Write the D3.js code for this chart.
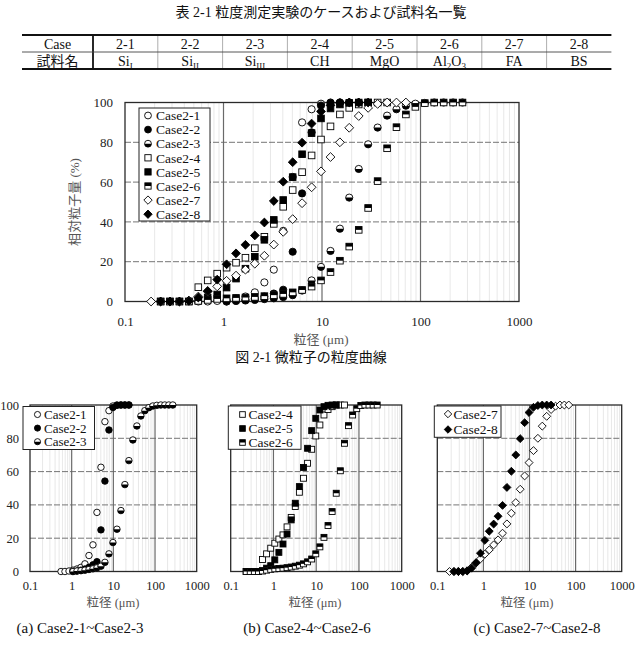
<!DOCTYPE html>
<html>
<head>
<meta charset="utf-8">
<script src="https://cdn.jsdelivr.net/npm/d3@7"></script>
<style>
  body { margin: 0; background: #fff; }
  svg { display: block; }
</style>
</head>
<body>
<script>
// particle size bins (µm)
const sizes = [0.148, 0.184, 0.230, 0.286, 0.357, 0.445, 0.555, 0.691, 0.863, 1.075,
  1.34, 1.67, 2.08, 2.60, 3.24, 4.04, 5.04, 6.28, 7.84, 9.77,
  12.2, 15.2, 18.9, 23.6, 29.4, 36.7, 45.8, 57.0, 71.1, 88.7,
  110.6, 137.8, 171.8, 214.3, 267]

const skip = n => Array(n).fill(null)

// cumulative passing (%) per case, aligned with sizes
const case2_1 = [...skip(6), 0, 0, 0.3, 0.8, 1.5, 2.5, 4.6, 9.6, 16, 35.5, 62.6, 90, 96.6, 99.4, 100, 100, 100, 100]
const case2_2 = [...skip(9), 0, 0.3, 0.8, 1.5, 2.5, 4, 5.9, 25, 54.3, 85, 98.5, 99.8, 100, 100, 100]
const case2_3 = [...skip(9), 0, 0.3, 0.5, 0.8, 1.2, 1.6, 2.2, 3.2, 5.5, 10.6, 17.4, 25.4, 36.6, 52.2, 66.6, 79, 87.4, 93.4, 96.6, 98.4, 99.4, 99.8, 100, 100, 100, 100]
const case2_4 = [...skip(6), 7.2, 10.6, 14, 17, 19.5, 22, 26.8, 32.5, 39, 47.6, 56, 65, 73.4, 81.4, 88, 94, 97.3, 99, 100, 100, 100]
const case2_5 = [...skip(2), 0, 0, 0, 0, 0.5, 2, 3.5, 7, 11.5, 16.5, 22.5, 31, 41, 51, 62.5, 74, 84.6, 92, 97, 99, 99.8, 100, 100]
const case2_6 = [...skip(2), 0, 0, 0, 0, 0.3, 0.8, 1.3, 1.6, 1.8, 2, 2.3, 2.7, 3.2, 3.8, 4.6, 5.8, 7.5, 10.6, 14.8, 20.5, 27.6, 36, 47, 60.5, 77, 87.6, 94, 97.8, 99.7, 100, 100, 100, 100]
const case2_7 = [...skip(1), 0, 0, 0, 0, 0.5, 2.5, 5, 7.6, 10.4, 13, 16, 19, 23, 28.6, 35, 41.4, 49.4, 57.4, 65.4, 72.6, 80, 87.3, 93.2, 97.3, 99.3, 100, 100, 100]
const case2_8 = [...skip(2), 0, 0, 0, 0.3, 2, 5.3, 11, 18.7, 24.2, 28.5, 33.2, 39.7, 50.5, 60.2, 70, 79.8, 89.4, 95.5, 98.6, 99.7, 100, 100, 100]

const caseNames = ['Case2-1', 'Case2-2', 'Case2-3', 'Case2-4', 'Case2-5', 'Case2-6', 'Case2-7', 'Case2-8']
const caseValues = [case2_1, case2_2, case2_3, case2_4, case2_5, case2_6, case2_7, case2_8]
const caseMarks = ['oc', 'fc', 'hc', 'os', 'fs', 'hs', 'od', 'fd']

const xTicks = [0.1, 1, 10, 100, 1000]
const yTicks = [0, 20, 40, 60, 80, 100]

const tableTitle = '表 2-1  粒度測定実験のケースおよび試料名一覧'
const tableHead = ['Case', '2-1', '2-2', '2-3', '2-4', '2-5', '2-6', '2-7', '2-8']
const tableNames = [
  [['試料名']], [['Si'], ['I', 1]], [['Si'], ['II', 1]], [['Si'], ['III', 1]],
  [['CH']], [['MgO']], [['Al'], ['2', 1], ['O'], ['3', 1]], [['FA']], [['BS']]
]

const W = 642, H = 645
const serif = '"Liberation Serif", "Times New Roman", "Noto Sans CJK JP", serif'

let svg = d3.select('body').append('svg')
  .attr('width', W)
  .attr('height', H)
  .attr('font-family', serif)

svg.append('rect').attr('width', W).attr('height', H).attr('fill', '#fff')

function addText(parent, x, y, t, size, fill) {
  return parent.append('text')
    .attr('x', x).attr('y', y)
    .attr('font-family', serif)
    .attr('font-size', size)
    .attr('fill', fill || '#111')
    .text(t)
}

// ---- table ----
let table = svg.append('g').attr('id', 'table')
const tLeft = 22, tSep = 93, colW = 64.8, tTop = 35, rowH = 17
const tRight = tSep + colW * 8
const colX = i => i === 0 ? (tLeft + tSep) / 2 : tSep + colW * (i - 0.5)

addText(table, 321, 17, tableTitle, 14).attr('text-anchor', 'middle')

function richText(sel, parts, subSize) {
  let shifted = false
  parts.forEach(([t, sub]) => {
    let ts = sel.append('tspan').text(t)
    if (sub) {
      ts.attr('font-size', subSize)
      if (!shifted) ts.attr('dy', 3)
      shifted = true
    } else if (shifted) {
      ts.attr('dy', -3)
      shifted = false
    }
  })
}

tableHead.forEach((t, i) => {
  addText(table, colX(i), tTop + rowH / 2 + 5, t, 14).attr('text-anchor', 'middle')
})
tableNames.forEach((parts, i) => {
  let tx = addText(table, colX(i), tTop + rowH * 1.5 + 5, null, 14).attr('text-anchor', 'middle')
  richText(tx, parts, 9)
})

// cell borders
for (let i = 1; i < 8; i++) {
  table.append('line')
    .attr('x1', tSep + colW * i).attr('x2', tSep + colW * i)
    .attr('y1', tTop).attr('y2', tTop + rowH * 2)
    .attr('stroke', '#999').attr('stroke-width', 0.8)
}
table.append('line')
  .attr('x1', tSep).attr('x2', tSep).attr('y1', tTop).attr('y2', tTop + rowH * 2)
  .attr('stroke', '#111').attr('stroke-width', 1.8)
table.append('line')
  .attr('x1', tLeft).attr('x2', tRight).attr('y1', tTop + rowH).attr('y2', tTop + rowH)
  .attr('stroke', '#444').attr('stroke-width', 0.9)
;[tTop, tTop + rowH * 2].forEach(yy => {
  table.append('line')
    .attr('x1', tLeft).attr('x2', tRight).attr('y1', yy).attr('y2', yy)
    .attr('stroke', '#111').attr('stroke-width', 2)
})

// ---- markers ----
function drawMarker(g, type, s) {
  const r = 3.6 * s, h = 3.3 * s, d = 4.4 * s
  if (type === 'oc' || type === 'fc' || type === 'hc') {
    g.append('circle').attr('r', r)
      .attr('fill', type === 'fc' ? '#000' : '#fff')
      .attr('stroke', '#000').attr('stroke-width', 0.9)
    if (type === 'hc') {
      g.append('path').attr('d', `M${-r},0A${r},${r} 0 0 0 ${r},0Z`).attr('fill', '#000')
    }
  } else if (type === 'os' || type === 'fs' || type === 'hs') {
    g.append('rect').attr('x', -h).attr('y', -h).attr('width', 2 * h).attr('height', 2 * h)
      .attr('fill', type === 'fs' ? '#000' : '#fff')
      .attr('stroke', '#000').attr('stroke-width', 0.9)
    if (type === 'hs') {
      g.append('rect').attr('x', -h).attr('y', -h).attr('width', 2 * h).attr('height', h)
        .attr('fill', '#000')
    }
  } else {
    g.append('path').attr('d', `M0,${-d}L${d},0L0,${d}L${-d},0Z`)
      .attr('fill', type === 'fd' ? '#000' : '#fff')
      .attr('stroke', '#000').attr('stroke-width', 0.9)
  }
}

// ---- one log chart panel ----
function drawPanel(p) {
  let g = svg.append('g').attr('id', p.id)
  const x = d3.scaleLog().domain([0.1, 1000]).range([p.x0, p.x1])
  const y = d3.scaleLinear().domain([0, 100]).range([p.y1, p.y0])

  g.append('rect')
    .attr('x', p.x0).attr('y', p.y0).attr('width', p.x1 - p.x0).attr('height', p.y1 - p.y0)
    .attr('fill', '#fff')

  // minor vertical grid
  const minor = x.ticks().filter(v => !xTicks.some(t => Math.abs(t - v) / t < 1e-6))
  g.append('g').selectAll('line').data(minor).join('line')
    .attr('x1', d => x(d)).attr('x2', d => x(d))
    .attr('y1', p.y0).attr('y2', p.y1)
    .attr('stroke', '#e2e2e2').attr('stroke-width', 0.8)

  // major vertical grid
  g.append('g').selectAll('line').data(xTicks.slice(1, -1)).join('line')
    .attr('x1', d => x(d)).attr('x2', d => x(d))
    .attr('y1', p.y0).attr('y2', p.y1)
    .attr('stroke', '#6a6a6a').attr('stroke-width', 1.2)

  // horizontal dashed grid
  g.append('g').selectAll('line').data(yTicks.slice(1, -1)).join('line')
    .attr('x1', p.x0).attr('x2', p.x1)
    .attr('y1', d => y(d)).attr('y2', d => y(d))
    .attr('stroke', '#666').attr('stroke-width', 0.9)
    .attr('stroke-dasharray', '6,2')

  g.append('rect')
    .attr('x', p.x0).attr('y', p.y0).attr('width', p.x1 - p.x0).attr('height', p.y1 - p.y0)
    .attr('fill', 'none').attr('stroke', '#2a2a2a').attr('stroke-width', 1.3)

  // axes
  let xa = g.append('g').attr('transform', `translate(0,${p.y1})`)
    .call(d3.axisBottom(x).tickValues(xTicks).tickFormat(d3.format('~g')).tickSize(0).tickPadding(p.xPad))
  xa.select('.domain').remove()
  xa.selectAll('text').attr('font-size', p.fs).attr('font-family', serif).attr('fill', '#222')

  if (p.yLabels) {
    let ya = g.append('g').attr('transform', `translate(${p.x0},0)`)
      .call(d3.axisLeft(y).tickValues(yTicks).tickSize(0).tickPadding(p.yPad))
    ya.select('.domain').remove()
    ya.selectAll('text').attr('font-size', p.fs).attr('font-family', serif).attr('fill', '#222')
  }

  // points
  p.series.forEach(si => {
    const pts = sizes.map((s, i) => ({ x: s, y: caseValues[si][i] }))
      .filter(d => d.y != null)
    g.append('g').selectAll('g').data(pts).join('g')
      .attr('transform', d => `translate(${x(d.x)},${y(d.y)})`)
      .each(function () { drawMarker(d3.select(this), caseMarks[si], p.ms) })
  })

  // legend
  const L = p.legend
  let lg = g.append('g').attr('class', 'legend')
  lg.append('rect')
    .attr('x', L.x).attr('y', L.y).attr('width', L.w).attr('height', L.h)
    .attr('fill', '#fff').attr('stroke', '#222').attr('stroke-width', 1)
  p.series.forEach((si, i) => {
    const cy = L.row0 + i * L.dy
    drawMarker(lg.append('g').attr('transform', `translate(${L.mx},${cy})`), caseMarks[si], L.ms)
    addText(lg, L.tx, cy, caseNames[si], L.fs).attr('dy', '0.35em')
  })

  // axis title
  addText(g, p.titleX, p.titleY, '粒径 (μm)', p.tfs, '#555').attr('text-anchor', 'middle')

  return g
}

// main chart
drawPanel({
  id: 'main', x0: 125, x1: 519, y0: 102.5, y1: 301.5,
  series: [0, 1, 2, 3, 4, 5, 6, 7], yLabels: true, ms: 1, fs: 13, tfs: 13, xPad: 15, yPad: 12,
  titleX: 321, titleY: 344,
  legend: { x: 139, y: 108, w: 71, h: 113, row0: 115.5, dy: 14.1, mx: 148, tx: 156, fs: 13.5, ms: 0.95 }
})

addText(svg, 79, 202, '相対粒子量 (%)', 13, '#555')
  .attr('transform', 'rotate(-90,79,202)')
  .attr('text-anchor', 'middle')

addText(svg, 311, 362, '図 2-1  微粒子の粒度曲線', 14).attr('text-anchor', 'middle')

// small charts
const smallTop = 405, smallBottom = 571.5
drawPanel({
  id: 'panelA', x0: 30, x1: 196.7, y0: smallTop, y1: smallBottom,
  series: [0, 1, 2], yLabels: true, ms: 0.9, fs: 12.5, tfs: 12.5, xPad: 10, yPad: 11,
  titleX: 113, titleY: 607,
  legend: { x: 23, y: 406.5, w: 71.5, h: 43, row0: 414.5, dy: 13.6, fs: 13, mx: 37.5, tx: 44, ms: 0.85 }
})
drawPanel({
  id: 'panelB', x0: 230.7, x1: 401.7, y0: smallTop, y1: smallBottom,
  series: [3, 4, 5], yLabels: false, ms: 0.9, fs: 12.5, tfs: 12.5, xPad: 10, yPad: 11,
  titleX: 315, titleY: 607,
  legend: { x: 228.3, y: 406, w: 72.7, h: 43.3, row0: 414.5, dy: 14, fs: 13.5, mx: 242.5, tx: 248.5, ms: 0.85 }
})
drawPanel({
  id: 'panelC', x0: 437.3, x1: 621.7, y0: smallTop, y1: smallBottom,
  series: [6, 7], yLabels: false, ms: 0.9, fs: 12.5, tfs: 12.5, xPad: 10, yPad: 11,
  titleX: 527, titleY: 607,
  legend: { x: 434.3, y: 406, w: 66.7, h: 31.3, row0: 414, dy: 15.5, fs: 13.5, mx: 448, tx: 453.5, ms: 0.85 }
})

const captions = [['(a) Case2-1~Case2-3', 80], ['(b) Case2-4~Case2-6', 307], ['(c) Case2-7~Case2-8', 537]]
captions.forEach(([t, cx]) => {
  addText(svg, cx, 633, t, 15).attr('text-anchor', 'middle')
})
</script>
</body>
</html>
